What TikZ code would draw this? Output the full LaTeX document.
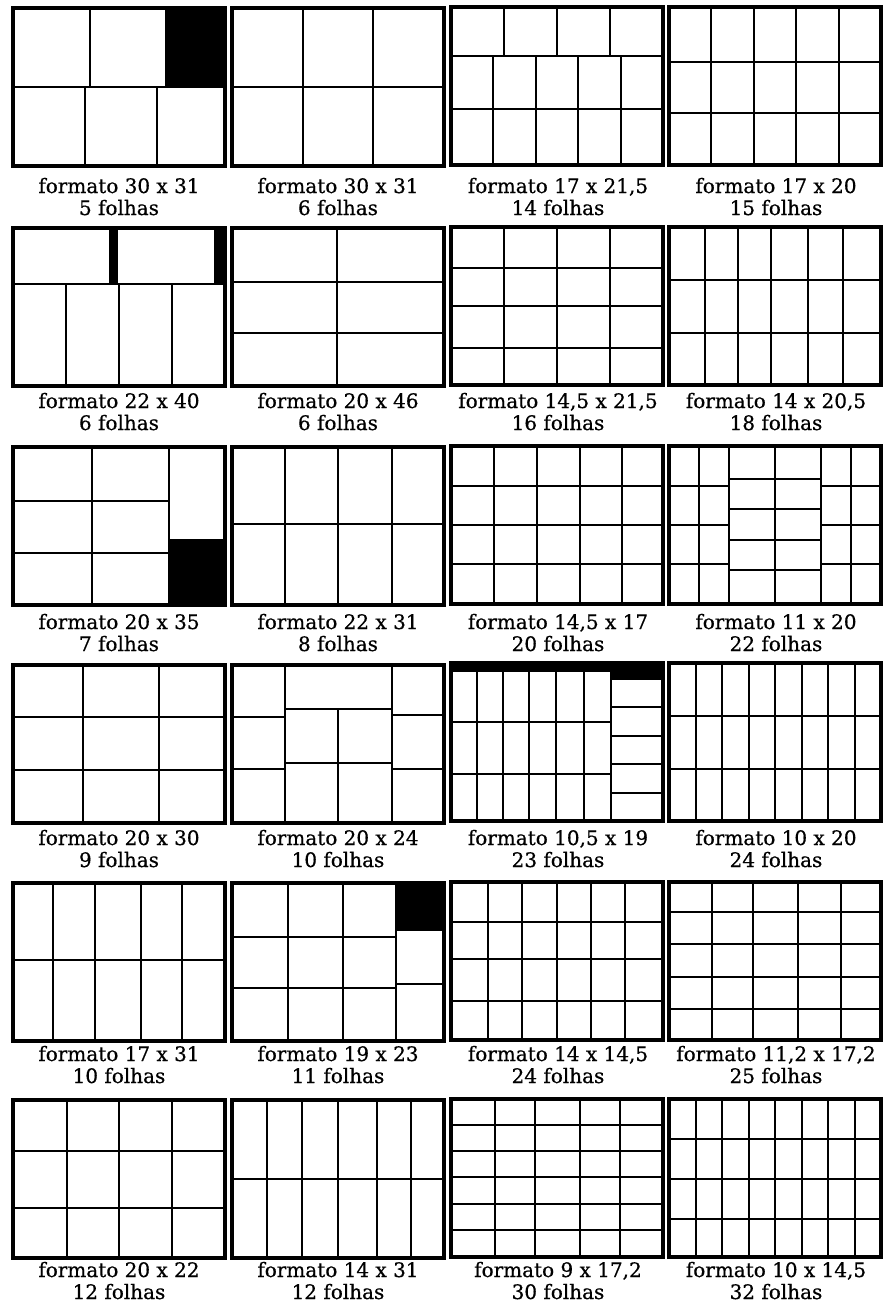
\documentclass[tikz,border=0pt]{standalone}
\usepackage{fontspec}
\setmainfont{DejaVu Serif}
\newfontfamily\capfont{DejaVu Serif}[FakeBold=0.6]
\tikzset{
  outer/.style={line width=3.4pt},
  inner/.style={line width=2pt},
  blk/.style={fill=black},
  captext/.style={anchor=base,inner sep=0pt,font=\capfont\fontsize{20pt}{22pt}\selectfont}
}
\newcommand\pnl[3]{\begin{scope}[shift={(#1pt,-#2pt)},x=212pt,y=-158pt]#3\draw[outer] (0,0) rectangle (1,1);\end{scope}}
\newcommand\pvl[3]{\foreach \v in {#1} \draw[inner] (\v,#2)--(\v,#3);}
\newcommand\phl[3]{\foreach \v in {#1} \draw[inner] (#2,\v)--(#3,\v);}
\newcommand\capt[5]{\node[captext] (#1a) at (#2,#3) {#4};\node[captext] (#1b) at (#2,#3+22) {#5};}
\begin{document}
\begin{tikzpicture}[x=1pt,y=-1pt]
\useasboundingbox[fill=white] (0,0) rectangle (887,1304);
% ---------- row 1 ----------
\pnl{13}{8}{\fill[blk] (0.72,0) rectangle (1,0.5);
  \phl{0.5}{0}{1}\pvl{0.365,0.72}{0}{0.5}\pvl{0.339,0.677}{0.5}{1}}
\pnl{232}{8}{\pvl{0.333,0.667}{0}{1}\phl{0.5}{0}{1}}
\pnl{451}{7}{\phl{0.313,0.647}{0}{1}\pvl{0.25,0.5,0.75}{0}{0.313}\pvl{0.2,0.4,0.6,0.8}{0.313}{1}}
\pnl{669}{7}{\pvl{0.2,0.4,0.6,0.8}{0}{1}\phl{0.345,0.67}{0}{1}}
% ---------- row 2 ----------
\pnl{13}{228}{\fill[blk] (0.452,0) rectangle (0.495,0.352);\fill[blk] (0.947,0) rectangle (1,0.352);
  \phl{0.352}{0}{1}\pvl{0.25,0.5,0.75}{0.352}{1}}
\pnl{232}{228}{\pvl{0.494}{0}{1}\phl{0.341,0.663}{0}{1}}
\pnl{451}{227}{\pvl{0.25,0.5,0.75}{0}{1}\phl{0.26,0.5,0.764}{0}{1}}
\pnl{669}{227}{\pvl{0.171,0.325,0.482,0.655,0.823}{0}{1}\phl{0.335,0.672}{0}{1}}
% ---------- row 3 ----------
\pnl{13}{447}{\fill[blk] (0.737,0.589) rectangle (1,1);
  \pvl{0.373,0.737}{0}{1}\phl{0.343,0.674}{0}{0.737}\phl{0.589}{0.737}{1}}
\pnl{232}{447}{\pvl{0.25,0.502,0.755}{0}{1}\phl{0.49}{0}{1}}
\pnl{451}{446}{\pvl{0.205,0.407,0.608,0.806}{0}{1}\phl{0.25,0.503,0.747}{0}{1}}
\pnl{669}{446}{\pvl{0.142,0.285,0.502,0.715,0.858}{0}{1}
  \phl{0.25,0.497,0.745}{0}{0.285}\phl{0.25,0.497,0.745}{0.715}{1}
  \phl{0.208,0.396,0.593,0.786}{0.285}{0.715}}
% ---------- row 4 ----------
\pnl{13}{665}{\pvl{0.33,0.689}{0}{1}\phl{0.326,0.667}{0}{1}}
\pnl{232}{665}{\pvl{0.25,0.755}{0}{1}\phl{0.328,0.66}{0}{0.25}\phl{0.317,0.655}{0.755}{1}
  \phl{0.279,0.619}{0.25}{0.755}\pvl{0.502}{0.279}{1}}
\pnl{451}{663}{\fill[blk] (0,0) rectangle (1,0.059);\fill[blk] (0.756,0) rectangle (1,0.106);
  \pvl{0.756}{0}{1}\pvl{0.121,0.247,0.367,0.496,0.626}{0.059}{1}
  \phl{0.376,0.704}{0}{0.756}\phl{0.281,0.461,0.641,0.82}{0.756}{1}}
\pnl{669}{663}{\pvl{0.125,0.25,0.375,0.5,0.625,0.75,0.875}{0}{1}\phl{0.338,0.673}{0}{1}}
% ---------- row 5 ----------
\pnl{13}{883}{\pvl{0.189,0.389,0.603,0.795}{0}{1}\phl{0.49}{0}{1}}
\pnl{232}{883}{\fill[blk] (0.775,0) rectangle (1,0.297);
  \pvl{0.262,0.524,0.775}{0}{1}\phl{0.339,0.667}{0}{0.775}\phl{0.297,0.636}{0.775}{1}}
\pnl{451}{882}{\pvl{0.174,0.336,0.5,0.661,0.823}{0}{1}\phl{0.251,0.489,0.751}{0}{1}}
\pnl{669}{882}{\pvl{0.202,0.396,0.609,0.81}{0}{1}\phl{0.189,0.394,0.602,0.802}{0}{1}}
% ---------- row 6 ----------
\pnl{13}{1100}{\pvl{0.255,0.499,0.751}{0}{1}\phl{0.325,0.684}{0}{1}}
\pnl{232}{1100}{\pvl{0.164,0.331,0.502,0.685,0.844}{0}{1}\phl{0.498}{0}{1}}
\pnl{451}{1099}{\pvl{0.206,0.398,0.607,0.797}{0}{1}\phl{0.164,0.328,0.495,0.665,0.829}{0}{1}}
\pnl{669}{1099}{\pvl{0.125,0.25,0.375,0.5,0.625,0.75,0.875}{0}{1}\phl{0.252,0.505,0.757}{0}{1}}
% ---------- captions ----------
\capt{c11}{119}{193}{formato 30 x 31}{5 folhas}
\capt{c12}{338}{193}{formato 30 x 31}{6 folhas}
\capt{c13}{558}{193}{formato 17 x 21,5}{14 folhas}
\capt{c14}{776}{193}{formato 17 x 20}{15 folhas}
\capt{c21}{119}{408}{formato 22 x 40}{6 folhas}
\capt{c22}{338}{408}{formato 20 x 46}{6 folhas}
\capt{c23}{558}{408}{formato 14,5 x 21,5}{16 folhas}
\capt{c24}{776}{408}{formato 14 x 20,5}{18 folhas}
\capt{c31}{119}{629}{formato 20 x 35}{7 folhas}
\capt{c32}{338}{629}{formato 22 x 31}{8 folhas}
\capt{c33}{558}{629}{formato 14,5 x 17}{20 folhas}
\capt{c34}{776}{629}{formato 11 x 20}{22 folhas}
\capt{c41}{119}{845}{formato 20 x 30}{9 folhas}
\capt{c42}{338}{845}{formato 20 x 24}{10 folhas}
\capt{c43}{558}{845}{formato 10,5 x 19}{23 folhas}
\capt{c44}{776}{845}{formato 10 x 20}{24 folhas}
\capt{c51}{119}{1061}{formato 17 x 31}{10 folhas}
\capt{c52}{338}{1061}{formato 19 x 23}{11 folhas}
\capt{c53}{558}{1061}{formato 14 x 14,5}{24 folhas}
\capt{c54}{776}{1061}{formato 11,2 x 17,2}{25 folhas}
\capt{c61}{119}{1277}{formato 20 x 22}{12 folhas}
\capt{c62}{338}{1277}{formato 14 x 31}{12 folhas}
\capt{c63}{558}{1277}{formato 9 x 17,2}{30 folhas}
\capt{c64}{776}{1277}{formato 10 x 14,5}{32 folhas}
\end{tikzpicture}
\end{document}
